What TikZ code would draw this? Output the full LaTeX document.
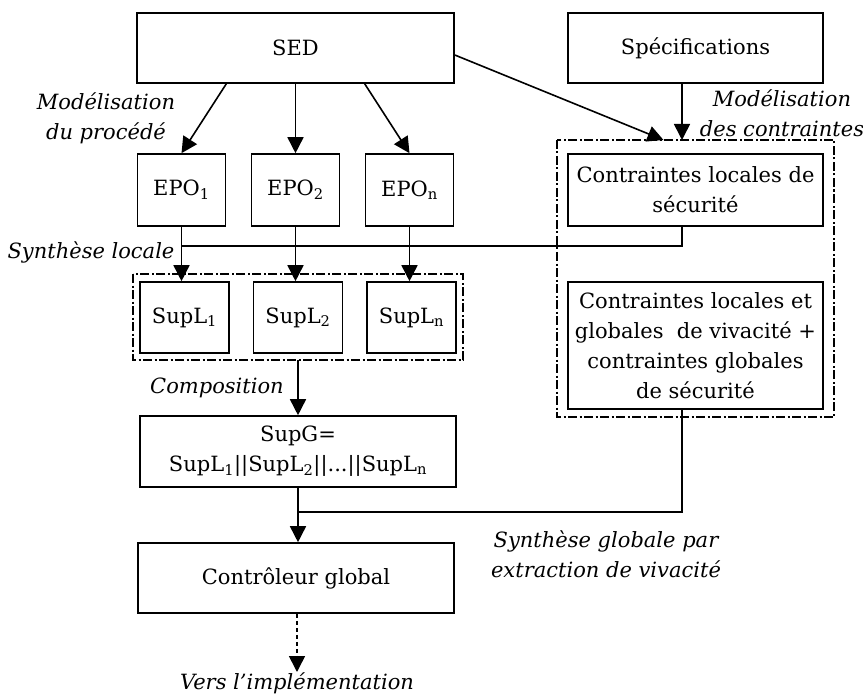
\documentclass[tikz,border=0pt]{standalone}
\usepackage{fontspec}
\setmainfont{DejaVu Serif}
\usetikzlibrary{arrows.meta,calc}

\begin{document}
\begin{tikzpicture}[
    x=1pt, y=-1pt,
    font=\fontsize{21}{30}\selectfont,
    box/.style={
        rectangle, draw=black, line width=1.6pt,
        align=center, inner sep=2pt
    },
    grp/.style={
        draw=black, line width=1.1pt,
        dash pattern=on 9pt off 2.5pt on 2pt off 2.5pt
    },
    lbl/.style={font=\fontsize{21}{30}\selectfont\itshape, align=center},
    arr/.style={-{Triangle[length=16pt,width=16pt]}, line width=1.6pt},
    line/.style={line width=1.6pt}
]
\useasboundingbox (0,0) rectangle (863,698);

% --- Sources ---
\node[box, minimum width=317, minimum height=70] (sed) at (295.5,48) {SED};
\node[box, minimum width=255, minimum height=70] (spec) at (695.5,48) {Spécifications};

% --- Local plants ---
\node[box, minimum width=88, minimum height=72] (epo1) at (181.5,190) {EPO\textsubscript{1}};
\node[box, minimum width=88, minimum height=72] (epo2) at (295.5,190) {EPO\textsubscript{2}};
\node[box, minimum width=88, minimum height=72] (epon) at (409.5,190) {EPO\textsubscript{n}};

% --- Local supervisors ---
\node[box, minimum width=89, minimum height=71] (supl1) at (184.5,317.5) {SupL\textsubscript{1}};
\node[box, minimum width=89, minimum height=71] (supl2) at (298,317.5) {SupL\textsubscript{2}};
\node[box, minimum width=89, minimum height=71] (supln) at (411.5,317.5) {SupL\textsubscript{n}};
\draw[grp] (133,274) rectangle (463,360);
\coordinate (locgrp) at (298,360);

% --- Constraints ---
\node[box, minimum width=255, minimum height=72] (cls) at (695.5,190)
    {Contraintes locales de\\sécurité};
\node[box, minimum width=255, minimum height=127] (clg) at (695.5,345.5)
    {Contraintes locales et\\globales \ de vivacité +\\contraintes globales\\de sécurité};
\draw[grp] (557,140) rectangle (834,417);
\coordinate (cgrp) at (695.5,140);

% --- Global ---
\node[box, minimum width=316, minimum height=71] (supg) at (298,451.5)
    {SupG=\\SupL\textsubscript{1}||SupL\textsubscript{2}||...||SupL\textsubscript{n}};
\node[box, minimum width=316, minimum height=70] (ctrl) at (296,578) {Contrôleur global};
\node[lbl, anchor=north, inner sep=1pt] (vers) at (297,672) {Vers l’implémentation};

% --- Labels ---
\node[lbl] (lmp) at (106,118) {Modélisation\\du procédé};
\node[lbl] (lmc) at (782,113) {Modélisation\\des contraintes};
\node[lbl] (lsl) at (91,252) {Synthèse locale};
\node[lbl] (lcomp) at (217,388) {Composition};
\node[lbl] (lsg) at (606,554) {Synthèse globale par\\extraction de vivacité};

% --- Helper points ---
\coordinate (cx) at (682,0);
\coordinate (jl) at (0,246);
\coordinate (jg) at (0,512);

% --- Arrows ---
\draw[arr] (sed.south -| epo1.east) -- (epo1.north);
\draw[arr] (sed.south) -- (epo2.north);
\draw[arr] (sed.south -| epon.west) -- (epon.north);
\draw[arr] ($(sed.east)+(0,7)$) -- ($(cgrp)+(-32,0)$);
\draw[arr] (spec.south -| cx) -- (cgrp -| cx);

\draw[line] (cls.south -| cx) |- (epo1.south |- jl);
\draw[arr] (epo1.south) -- (epo1.south |- supl1.north);
\draw[arr] (epo2.south) -- (epo2.south |- supl2.north);
\draw[arr] (epon.south) -- (epon.south |- supln.north);

\draw[arr] (locgrp) -- (supg.north);
\draw[line] (clg.south -| cx) |- (supg.south |- jg);
\draw[arr] (supg.south) -- (supg.south |- ctrl.north);
\draw[arr, dash pattern=on 4pt off 3pt] (ctrl.south -| vers) -- (vers.north);

\end{tikzpicture}
\end{document}
